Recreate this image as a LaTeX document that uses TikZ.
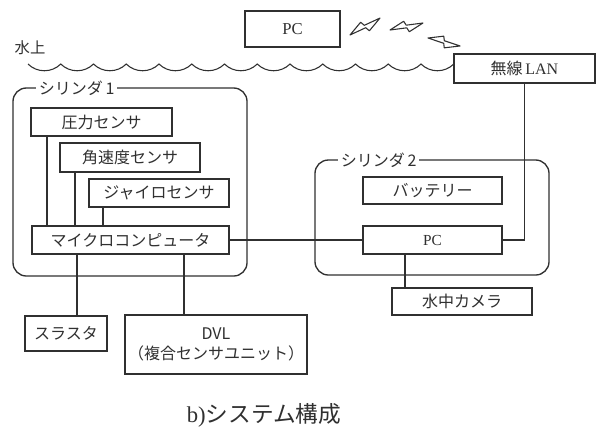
\documentclass[tikz,border=0pt]{standalone}
\usepackage{fontspec}
\setmainfont{Liberation Serif}
\newfontfamily\jp{Noto Sans CJK JP}
\definecolor{ink}{HTML}{303030}
\newcommand\pxbox[6]{%
  \node[box, minimum width={(#4-#2)*0.75pt}, minimum height={(#5-#3)*0.75pt}]
    (#1) at ({(#2+#4)/2},{(#3+#5)/2}) {#6};}
\tikzset{
  box/.style={draw=ink, line width=1pt, inner sep=0pt, text=ink, font=\jp\fontsize{12}{14}\selectfont, align=center},
  conn/.style={draw=ink, line width=1pt},
  cyl/.style={draw=ink, line width=1pt, rounded corners=10pt},
  cyltitle/.style={fill=white, inner xsep=2pt, inner ysep=1pt, anchor=west, text=ink, font=\jp\fontsize{12}{14}\selectfont},
  wavy/.style={draw=ink, line width=0.8pt},
  boltline/.style={draw=ink, line width=0.8pt, line join=round},
  boltpic/.pic={\path[boltline] (0,0) -- (0.45,-0.17) -- (0.5,-0.04) -- (1,0) -- (0.55,0.17) -- (0.5,0.04) -- cycle;}
}
\begin{document}
\begin{tikzpicture}[x=0.75pt,y=-0.75pt]
\useasboundingbox[fill=white] (0,0) rectangle (598,430);
% water surface
\node[text=ink, font=\jp\fontsize{11.5}{13}\selectfont] (water) at (30,48) {水上};
\path[wavy] (28,64) foreach \i in {1,...,13} { .. controls +(9,9) and +(-9,9) .. ++(32.75,0) };
% top PC and wireless
\pxbox{pctop}{245}{11}{340}{47}{\rmfamily\fontsize{12.5}{14}\selectfont PC}
\pic[rotate=29.5, scale=34.5] at (350,35) {boltpic};
\pic[rotate=12, scale=33.7] at (390,30) {boltpic};
\pic[rotate=-14, scale=33] at (428,38) {boltpic};
\pxbox{lan}{454}{54}{595}{83}{無線\,{\rmfamily LAN}}
% cylinder 1
\path[cyl] (13,88) rectangle (247,276);
\node[cyltitle] (c1) at (36,88) {シリンダ\,1};
\pxbox{p1}{31}{108}{172}{136}{圧力センサ}
\pxbox{p2}{60}{143}{200}{172}{角速度センサ}
\pxbox{p3}{89}{179}{229}{207}{ジャイロセンサ}
\pxbox{mc}{32}{226}{229}{254}{マイクロコンピュータ}
% cylinder 2
\path[cyl] (315,160) rectangle (549,275);
\node[cyltitle] (c2) at (338,160) {シリンダ\,2};
\pxbox{bat}{363}{177}{502}{204}{バッテリー}
\pxbox{pc}{363}{226}{502}{254}{\rmfamily\fontsize{11.5}{13}\selectfont PC}
% outside units
\pxbox{cam}{392}{288}{532}{315}{水中カメラ}
\pxbox{thr}{25}{316}{107}{351}{スラスタ}
\pxbox{dvl}{125}{315}{307}{374}{DVL\\[1pt]（複合センサユニット）}
% connectors
\path[conn] (47,0 |- p1.south) -- (47,0 |- mc.north);
\path[conn] (75,0 |- p2.south) -- (75,0 |- mc.north);
\path[conn] (103,0 |- p3.south) -- (103,0 |- mc.north);
\path[conn] (mc.east) -- (pc.west);
\path[conn] (lan.south) |- (pc.east);
\path[conn] (77,0 |- mc.south) -- (77,0 |- thr.north);
\path[conn] (184,0 |- mc.south) -- (184,0 |- dvl.north);
\path[conn] (405,0 |- pc.south) -- (405,0 |- cam.north);
% caption
\node[text=ink, font=\fontsize{17}{19}\selectfont] (cap) at (264,415) {b){\jp システム構成}};
\end{tikzpicture}
\end{document}
